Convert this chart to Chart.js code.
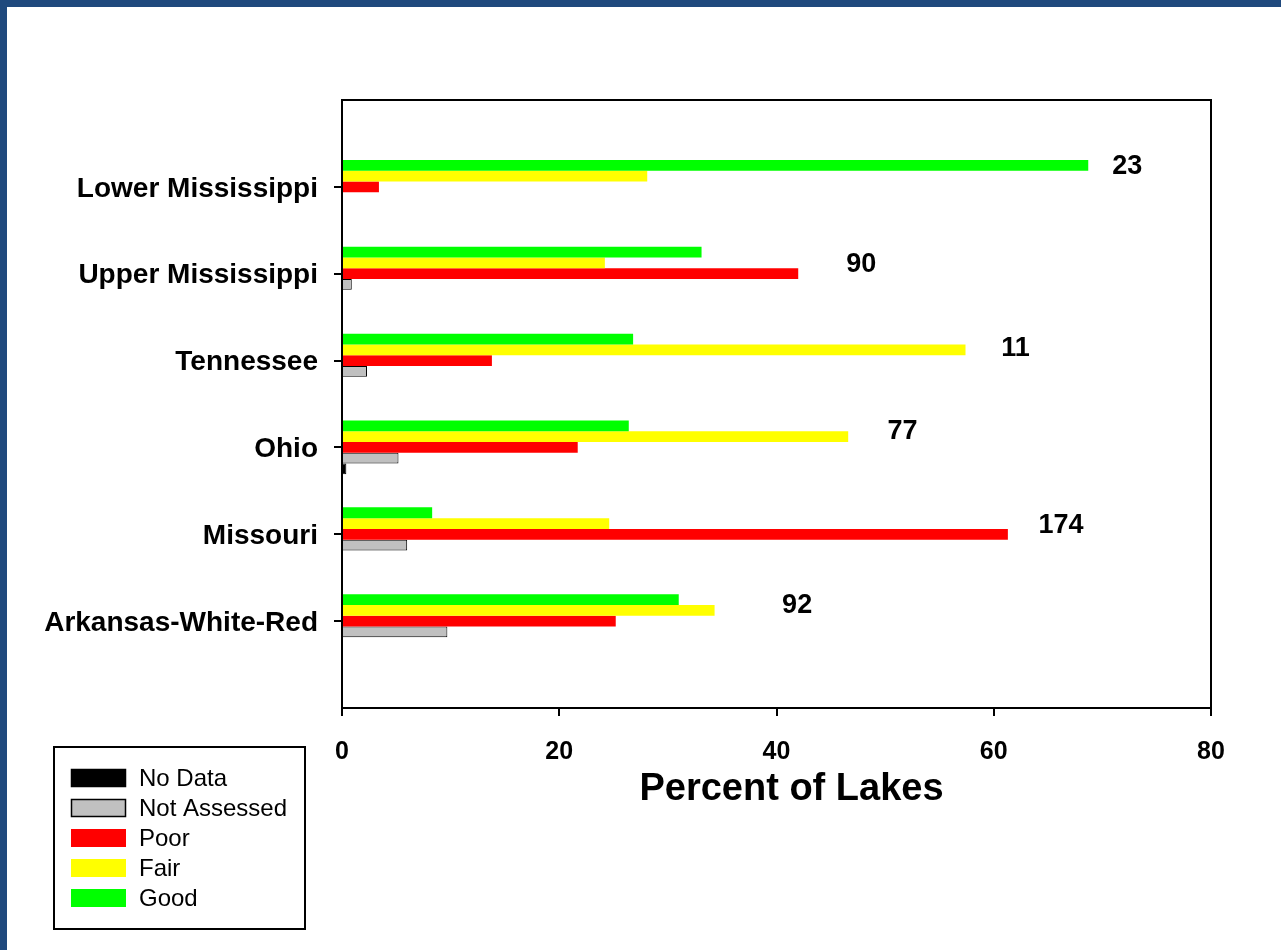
<!DOCTYPE html>
<html>
<head>
<meta charset="utf-8">
<script src="https://cdn.jsdelivr.net/npm/chart.js@4"></script>
<style>
  body { margin: 0; background: #fff; }
  canvas { display: block; }
</style>
</head>
<body>
<canvas id="chart" width="1281" height="950"></canvas>
<script>
// lake condition by basin, percent of lakes
const categories = ['Lower Mississippi', 'Upper Mississippi', 'Tennessee', 'Ohio', 'Missouri', 'Arkansas-White-Red'];
const good = [68.7, 33.1, 26.8, 26.4, 8.3, 31.0];
const fair = [28.1, 24.2, 57.4, 46.6, 24.6, 34.3];
const poor = [3.4, 42.0, 13.8, 21.7, 61.3, 25.2];
const notAssessed = [0, 0.9, 2.3, 5.2, 6.0, 9.7];
const noData = [0, 0, 0, 0.4, 0, 0];
const lakeCounts = ['23', '90', '11', '77', '174', '92'];
// where the count labels sit (x in percent, y as offset in category units)
const countX = [72.3, 47.8, 62.0, 51.6, 66.2, 41.9];
const countY = [-0.23, -0.11, -0.14, -0.18, -0.10, -0.18];
const xTicks = [0, 20, 40, 60, 80];

const FONT = '"Liberation Sans", Arial, sans-serif';

// blank slots above and below so the groups sit where the original has them
const labels = [''].concat(categories, ['']);
const pad = arr => [null].concat(arr, [null]);

const series = [
  { label: 'Good', data: good, color: '#00ff00' },
  { label: 'Fair', data: fair, color: '#ffff00' },
  { label: 'Poor', data: poor, color: '#ff0000' },
  { label: 'Not Assessed', data: notAssessed, color: '#c0c0c0', border: true },
  { label: 'No Data', data: noData, color: '#000000', border: true }
];

const datasets = series.map(s => ({
  label: s.label,
  data: pad(s.data),
  backgroundColor: s.color,
  borderColor: '#000',
  borderWidth: s.border ? 1 : 0,
  borderSkipped: 'start',
  categoryPercentage: 0.62,
  barPercentage: 1.0
}));

const extras = {
  id: 'extras',
  beforeDraw(chart) {
    const ctx = chart.ctx;
    ctx.save();
    ctx.fillStyle = '#1f497d';
    ctx.fillRect(0, 0, chart.width, 7);
    ctx.fillRect(0, 0, 7, chart.height);
    ctx.restore();
  },
  afterDraw(chart) {
    const ctx = chart.ctx;
    const a = chart.chartArea;
    const xs = chart.scales.x, ys = chart.scales.y;
    ctx.save();
    // frame top and right
    ctx.strokeStyle = '#000';
    ctx.lineWidth = 2;
    ctx.beginPath();
    ctx.moveTo(a.left, a.top);
    ctx.lineTo(a.right, a.top);
    ctx.lineTo(a.right, a.bottom);
    ctx.stroke();

    // axis title
    ctx.fillStyle = '#000';
    ctx.textAlign = 'center';
    ctx.textBaseline = 'middle';
    ctx.font = 'bold 38px ' + FONT;
    ctx.fillText('Percent of Lakes', (a.left + a.right) / 2 + 15, 790);

    // lake counts
    ctx.font = 'bold 27px ' + FONT;
    lakeCounts.forEach((t, i) => {
      const x = xs.getPixelForValue(countX[i]);
      const y = ys.getPixelForValue(i + 1 + countY[i]);
      ctx.fillText(t, x, y);
    });

    // legend box
    ctx.lineWidth = 2;
    ctx.strokeRect(54, 747, 251, 182);
    ctx.font = '24px ' + FONT;
    ctx.textAlign = 'left';
    const order = series.slice().reverse();
    order.forEach((s, i) => {
      const cy = 778 + i * 30;
      ctx.fillStyle = s.color;
      ctx.fillRect(71, cy - 9, 55, 18);
      if (s.border) {
        ctx.lineWidth = 1.5;
        ctx.strokeStyle = '#000';
        ctx.strokeRect(71.5, cy - 8.5, 54, 17);
      }
      ctx.fillStyle = '#000';
      ctx.fillText(s.label, 139, cy + 1);
    });
    ctx.restore();
  }
};

new Chart(document.getElementById('chart'), {
  type: 'bar',
  data: { labels: labels, datasets: datasets },
  plugins: [extras],
  options: {
    responsive: false,
    animation: false,
    indexAxis: 'y',
    layout: { padding: { top: 100, right: 70, left: 0, bottom: 0 } },
    plugins: {
      legend: { display: false },
      tooltip: { enabled: false }
    },
    scales: {
      x: {
        type: 'linear',
        min: 0,
        max: 80,
        afterBuildTicks: s => { s.ticks = xTicks.map(v => ({ value: v })); },
        afterFit: s => { s.height = 242; },
        grid: { drawOnChartArea: false, tickLength: 8, color: '#000', lineWidth: 2 },
        border: { color: '#000', width: 2 },
        ticks: { color: '#000', font: { family: FONT, size: 25, weight: 'bold' }, padding: 21 }
      },
      y: {
        type: 'category',
        offset: false,
        afterFit: s => { s.width = 342; },
        grid: {
          offset: false,
          drawOnChartArea: false,
          tickLength: 8,
          lineWidth: 2,
          color: c => (c.index === 0 || c.index === labels.length - 1) ? 'rgba(0,0,0,0)' : '#000'
        },
        border: { color: '#000', width: 2 },
        ticks: { color: '#000', font: { family: FONT, size: 28, weight: 'bold' }, padding: 16, labelOffset: 2, autoSkip: false }
      }
    }
  }
});
</script>
</body>
</html>
